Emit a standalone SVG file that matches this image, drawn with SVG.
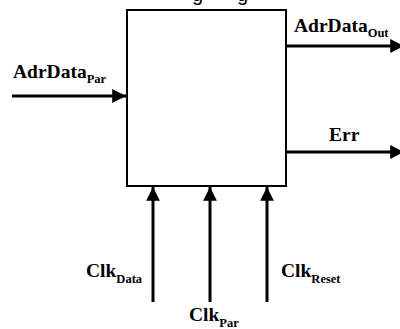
<svg xmlns="http://www.w3.org/2000/svg" width="400" height="329" viewBox="0 0 400 329">
  <defs>
    <marker id="arrow" viewBox="0 0 10 10" refX="10" refY="5" markerWidth="4.6" markerHeight="4.6" markerUnits="strokeWidth" orient="auto">
      <path d="M0,0 L10,5 L0,10 z" fill="#000"/>
    </marker>
  </defs>
  <style>
    .lbl { font-family: "Liberation Serif", "Times New Roman", serif; font-weight: bold; font-size: 19.5px; fill: #000; }
    .sub { font-size: 12.5px; }
    .wire { stroke: #000; stroke-width: 3; fill: none; marker-end: url(#arrow); }
    .block { fill: #fff; stroke: #000; stroke-width: 2; }
  </style>
  <rect width="400" height="329" fill="#fff"/>
  <!-- title clipped by the top edge -->
  <text x="192 237" y="0.5" font-family="Liberation Sans, Arial, sans-serif" font-size="20" fill="#000">gg</text>

  <g id="block">
    <rect class="block" x="127" y="10" width="159" height="176"/>
  </g>

  <g id="connectors">
    <line class="wire" x1="12" y1="96" x2="126" y2="96"/>
    <line class="wire" x1="287" y1="46" x2="404" y2="46"/>
    <line class="wire" x1="287" y1="152" x2="404" y2="152"/>
    <line class="wire" x1="153" y1="302" x2="153" y2="187"/>
    <line class="wire" x1="210" y1="302" x2="210" y2="187"/>
    <line class="wire" x1="267" y1="302" x2="267" y2="187"/>
  </g>

  <g id="label-adrdata-par">
    <text class="lbl" x="13" y="78">AdrData<tspan class="sub" dy="5">Par</tspan></text>
  </g>
  <g id="label-adrdata-out">
    <text class="lbl" x="294" y="32">AdrData<tspan class="sub" dy="5">Out</tspan></text>
  </g>
  <g id="label-err">
    <text class="lbl" x="329" y="141">Err</text>
  </g>
  <g id="label-clk-data">
    <text class="lbl" x="86" y="277">Clk<tspan class="sub" dy="6">Data</tspan></text>
  </g>
  <g id="label-clk-par">
    <text class="lbl" x="189" y="321">Clk<tspan class="sub" dy="6">Par</tspan></text>
  </g>
  <g id="label-clk-reset">
    <text class="lbl" x="281" y="277">Clk<tspan class="sub" dy="6">Reset</tspan></text>
  </g>
</svg>
